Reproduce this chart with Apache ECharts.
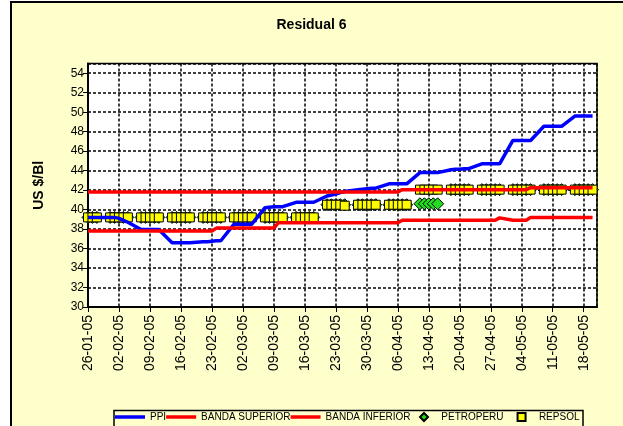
<!DOCTYPE html>
<html>
<head>
<meta charset="utf-8">
<script src="https://cdn.jsdelivr.net/npm/echarts@6/dist/echarts.min.js"></script>
<style>
  html, body { margin: 0; padding: 0; background: #fff; }
  #chart { width: 623px; height: 426px; }
</style>
</head>
<body>
<div id="chart"></div>
<script>
// business days, one row per week
var dates = [
  '26-01-05', '27-01-05', '28-01-05',
  '31-01-05', '01-02-05', '02-02-05', '03-02-05', '04-02-05',
  '07-02-05', '08-02-05', '09-02-05', '10-02-05', '11-02-05',
  '14-02-05', '15-02-05', '16-02-05', '17-02-05', '18-02-05',
  '21-02-05', '22-02-05', '23-02-05', '24-02-05', '25-02-05',
  '28-02-05', '01-03-05', '02-03-05', '03-03-05', '04-03-05',
  '07-03-05', '08-03-05', '09-03-05', '10-03-05', '11-03-05',
  '14-03-05', '15-03-05', '16-03-05', '17-03-05', '18-03-05',
  '21-03-05', '22-03-05', '23-03-05', '24-03-05', '25-03-05',
  '28-03-05', '29-03-05', '30-03-05', '31-03-05', '01-04-05',
  '04-04-05', '05-04-05', '06-04-05', '07-04-05', '08-04-05',
  '11-04-05', '12-04-05', '13-04-05', '14-04-05', '15-04-05',
  '18-04-05', '19-04-05', '20-04-05', '21-04-05', '22-04-05',
  '25-04-05', '26-04-05', '27-04-05', '28-04-05', '29-04-05',
  '02-05-05', '03-05-05', '04-05-05', '05-05-05', '06-05-05',
  '09-05-05', '10-05-05', '11-05-05', '12-05-05', '13-05-05',
  '16-05-05', '17-05-05', '18-05-05', '19-05-05', '20-05-05'
];

var ppi = [
  39.2, 39.2, 39.2,
  39.2, 39.2, 39.1, 38.9, 38.7,
  37.95, 37.95, 37.95, 37.95, 37.95,
  36.6, 36.6, 36.6, 36.6, 36.6,
  36.7, 36.7, 36.75, 36.8, 36.8,
  38.5, 38.5, 38.5, 38.5, 38.5,
  40.2, 40.25, 40.3, 40.3, 40.3,
  40.75, 40.75, 40.75, 40.75, 40.75,
  41.4, 41.5, 41.6, 41.75, 41.85,
  42.05, 42.1, 42.15, 42.2, 42.2,
  42.65, 42.65, 42.65, 42.65, 42.65,
  43.8, 43.8, 43.8, 43.8, 43.8,
  44.1, 44.15, 44.15, 44.2, 44.2,
  44.7, 44.7, 44.7, 44.7, 44.7,
  47.1, 47.1, 47.1, 47.1, 47.1,
  48.55, 48.55, 48.55, 48.55, 48.55,
  49.6, 49.6, 49.6, 49.6, 49.6
];

var bandaSuperior = [
  41.8, 41.8, 41.8,
  41.8, 41.8, 41.8, 41.8, 41.8,
  41.8, 41.8, 41.8, 41.8, 41.8,
  41.8, 41.8, 41.8, 41.8, 41.8,
  41.8, 41.8, 41.8, 41.8, 41.8,
  41.8, 41.8, 41.8, 41.8, 41.8,
  41.8, 41.8, 41.8, 41.8, 41.8,
  41.8, 41.8, 41.8, 41.8, 41.8,
  41.8, 41.8, 41.8, 41.8, 41.8,
  41.8, 41.8, 41.8, 41.8, 41.8,
  41.8, 41.8, 41.8, 42.05, 42.05,
  42.05, 42.05, 42.05, 42.05, 42.05,
  42.05, 42.05, 42.05, 42.05, 42.05,
  42.05, 42.05, 42.05, 42.05, 42.05,
  42.05, 42.05, 42.05, 42.05, 42.25,
  42.25, 42.25, 42.25, 42.25, 42.25,
  42.25, 42.25, 42.25, 42.25, 42.25
];

var bandaInferior = [
  37.8, 37.8, 37.8,
  37.8, 37.8, 37.8, 37.8, 37.8,
  37.8, 37.8, 37.8, 37.8, 37.8,
  37.8, 37.8, 37.8, 37.8, 37.8,
  37.8, 37.8, 37.8, 38.1, 38.1,
  38.1, 38.1, 38.1, 38.1, 38.1,
  38.1, 38.1, 38.1, 38.65, 38.65,
  38.65, 38.65, 38.65, 38.65, 38.65,
  38.65, 38.65, 38.65, 38.65, 38.65,
  38.65, 38.65, 38.65, 38.65, 38.65,
  38.65, 38.65, 38.65, 38.9, 38.9,
  38.9, 38.9, 38.9, 38.9, 38.9,
  38.9, 38.9, 38.9, 38.9, 38.9,
  38.9, 38.9, 38.9, 38.9, 39.15,
  38.9, 38.9, 38.9, 38.9, 39.2,
  39.2, 39.2, 39.2, 39.2, 39.2,
  39.2, 39.2, 39.2, 39.2, 39.2
];

var petroperu = [
  39.2, 39.2, 39.2,
  39.2, 39.2, 39.2, 39.2, 39.2,
  39.2, 39.2, 39.2, 39.2, 39.2,
  39.2, 39.2, 39.2, 39.2, 39.2,
  39.2, 39.2, 39.2, 39.2, 39.2,
  39.2, 39.2, 39.2, 39.2, 39.2,
  39.2, 39.2, 39.2, 39.2, 39.2,
  39.2, 39.2, 39.2, 39.2, 39.2,
  40.5, 40.5, 40.5, 40.5, 40.5,
  40.5, 40.5, 40.5, 40.5, 40.5,
  40.5, 40.5, 40.5, 40.5, 40.5,
  40.6, 40.6, 40.6, 40.6, 40.6,
  42.05, 42.05, 42.05, 42.05, 42.05,
  42.05, 42.05, 42.05, 42.05, 42.05,
  42.05, 42.05, 42.05, 42.05, 42.05,
  42.05, 42.05, 42.05, 42.05, 42.05,
  42.05, 42.05, 42.05, 42.05, 42.05
];

var repsol = [
  39.2, 39.2, 39.2,
  39.2, 39.2, 39.2, 39.2, 39.2,
  39.2, 39.2, 39.2, 39.2, 39.2,
  39.2, 39.2, 39.2, 39.2, 39.2,
  39.2, 39.2, 39.2, 39.2, 39.2,
  39.2, 39.2, 39.2, 39.2, 39.2,
  39.2, 39.2, 39.2, 39.2, 39.2,
  39.2, 39.2, 39.2, 39.2, 39.2,
  40.5, 40.5, 40.5, 40.5, 40.4,
  40.5, 40.5, 40.5, 40.5, 40.5,
  40.5, 40.5, 40.5, 40.5, 40.5,
  42.05, 42.05, 42.05, 42.05, 42.05,
  42.05, 42.05, 42.05, 42.05, 42.05,
  42.05, 42.05, 42.05, 42.05, 42.05,
  42.05, 42.05, 42.05, 42.05, 42.05,
  42.05, 42.05, 42.05, 42.05, 42.05,
  42.05, 42.05, 42.05, 42.05, 42.05
];

// weekly ticks on the x axis
var tickLabels = [
  '26-01-05', '02-02-05', '09-02-05', '16-02-05', '23-02-05', '02-03-05',
  '09-03-05', '16-03-05', '23-03-05', '30-03-05', '06-04-05', '13-04-05',
  '20-04-05', '27-04-05', '04-05-05', '11-05-05', '18-05-05'
];

var FONT = 'Liberation Sans, Arial, sans-serif';
var START = Date.UTC(2005, 0, 26);

// days since 26-01-05
function dayOf(s) {
  var p = s.split('-');
  return (Date.UTC(2000 + +p[2], +p[1] - 1, +p[0]) - START) / 86400000;
}

function toPoints(values) {
  return values.map(function (v, i) { return [dayOf(dates[i]), v]; });
}

var chart = echarts.init(document.getElementById('chart'));

var dashed = { color: '#000', type: [3, 2], width: 1.5 };
var legendText = { fontFamily: FONT, fontSize: 10, color: '#000' };

chart.setOption({
  animation: false,
  backgroundColor: '#fff',
  textStyle: { fontFamily: FONT, color: '#000' },
  title: {
    text: 'Residual 6',
    left: 'center',
    top: 13,
    textStyle: { fontFamily: FONT, fontSize: 14, fontWeight: 'bold', color: '#000' }
  },
  graphic: [
    {
      type: 'rect',
      z: -100,
      shape: { x: 11, y: 2, width: 700, height: 500 },
      style: { fill: '#FFFFCC', stroke: '#000', lineWidth: 2 }
    },
    {
      type: 'rect',
      z: -90,
      shape: { x: 114, y: 410.5, width: 469, height: 40 },
      style: { fill: '#FFFFCC', stroke: '#000', lineWidth: 1.5 }
    }
  ],
  legend: [
    {
      left: 115,
      top: 412,
      padding: 0,
      itemWidth: 30,
      itemHeight: 3.5,
      itemGap: 0,
      symbolKeepAspect: false,
      selectedMode: false,
      textStyle: legendText,
      data: [
        { name: 'PPI', icon: 'rect' },
        { name: 'BANDA SUPERIOR', icon: 'rect' },
        { name: 'BANDA INFERIOR', icon: 'rect' }
      ]
    },
    {
      left: 419,
      top: 412,
      padding: 0,
      itemWidth: 8,
      itemHeight: 8,
      itemGap: 13,
      selectedMode: false,
      textStyle: legendText,
      formatter: function (name) { return '   ' + name; },
      data: [{ name: 'PETROPERU', icon: 'diamond' }, { name: 'REPSOL', icon: 'rect' }]
    }
  ],
  grid: {
    left: 88,
    right: 26,
    top: 63.5,
    bottom: 119,
    show: true,
    backgroundColor: '#fff',
    borderColor: '#000',
    borderWidth: 1.5
  },
  xAxis: {
    type: 'value',
    min: 0,
    max: 115,
    interval: 7,
    axisLine: { show: true, lineStyle: { color: '#000', width: 2 } },
    axisTick: { show: true, length: 5, lineStyle: { color: '#000' } },
    axisLabel: {
      rotate: 90,
      fontSize: 14,
      color: '#000',
      margin: 8,
      showMaxLabel: false,
      formatter: function (v) { return tickLabels[v / 7] || ''; }
    },
    splitLine: { show: true, lineStyle: dashed }
  },
  yAxis: {
    type: 'value',
    min: 30,
    max: 55,
    interval: 2,
    name: 'US $/Bl',
    nameLocation: 'middle',
    nameRotate: 90,
    nameGap: 42,
    nameTextStyle: { fontFamily: FONT, fontSize: 14, fontWeight: 'bold', color: '#000' },
    axisLine: { show: true, lineStyle: { color: '#000', width: 2 } },
    axisTick: { show: true, length: 5, lineStyle: { color: '#000' } },
    axisLabel: { fontSize: 12, color: '#000', margin: 4, showMaxLabel: false },
    splitLine: { show: true, lineStyle: dashed }
  },
  series: [
    {
      name: 'PPI',
      type: 'line',
      data: toPoints(ppi),
      symbol: 'none',
      lineStyle: { color: '#0000FF', width: 3.5 },
      itemStyle: { color: '#0000FF' }
    },
    {
      name: 'BANDA SUPERIOR',
      type: 'line',
      data: toPoints(bandaSuperior),
      symbol: 'none',
      lineStyle: { color: '#FF0000', width: 3.5 },
      itemStyle: { color: '#FF0000' }
    },
    {
      name: 'BANDA INFERIOR',
      type: 'line',
      data: toPoints(bandaInferior),
      symbol: 'none',
      lineStyle: { color: '#FF0000', width: 3.5 },
      itemStyle: { color: '#FF0000' }
    },
    {
      name: 'PETROPERU',
      type: 'scatter',
      data: toPoints(petroperu),
      symbol: 'diamond',
      symbolSize: 12,
      itemStyle: { color: '#22DD22', borderColor: '#000', borderWidth: 1, opacity: 1 }
    },
    {
      name: 'REPSOL',
      type: 'scatter',
      data: toPoints(repsol),
      symbol: 'rect',
      symbolSize: 9,
      itemStyle: { color: '#FFFF00', borderColor: '#000', borderWidth: 1, opacity: 1 }
    }
  ]
});
</script>
</body>
</html>
